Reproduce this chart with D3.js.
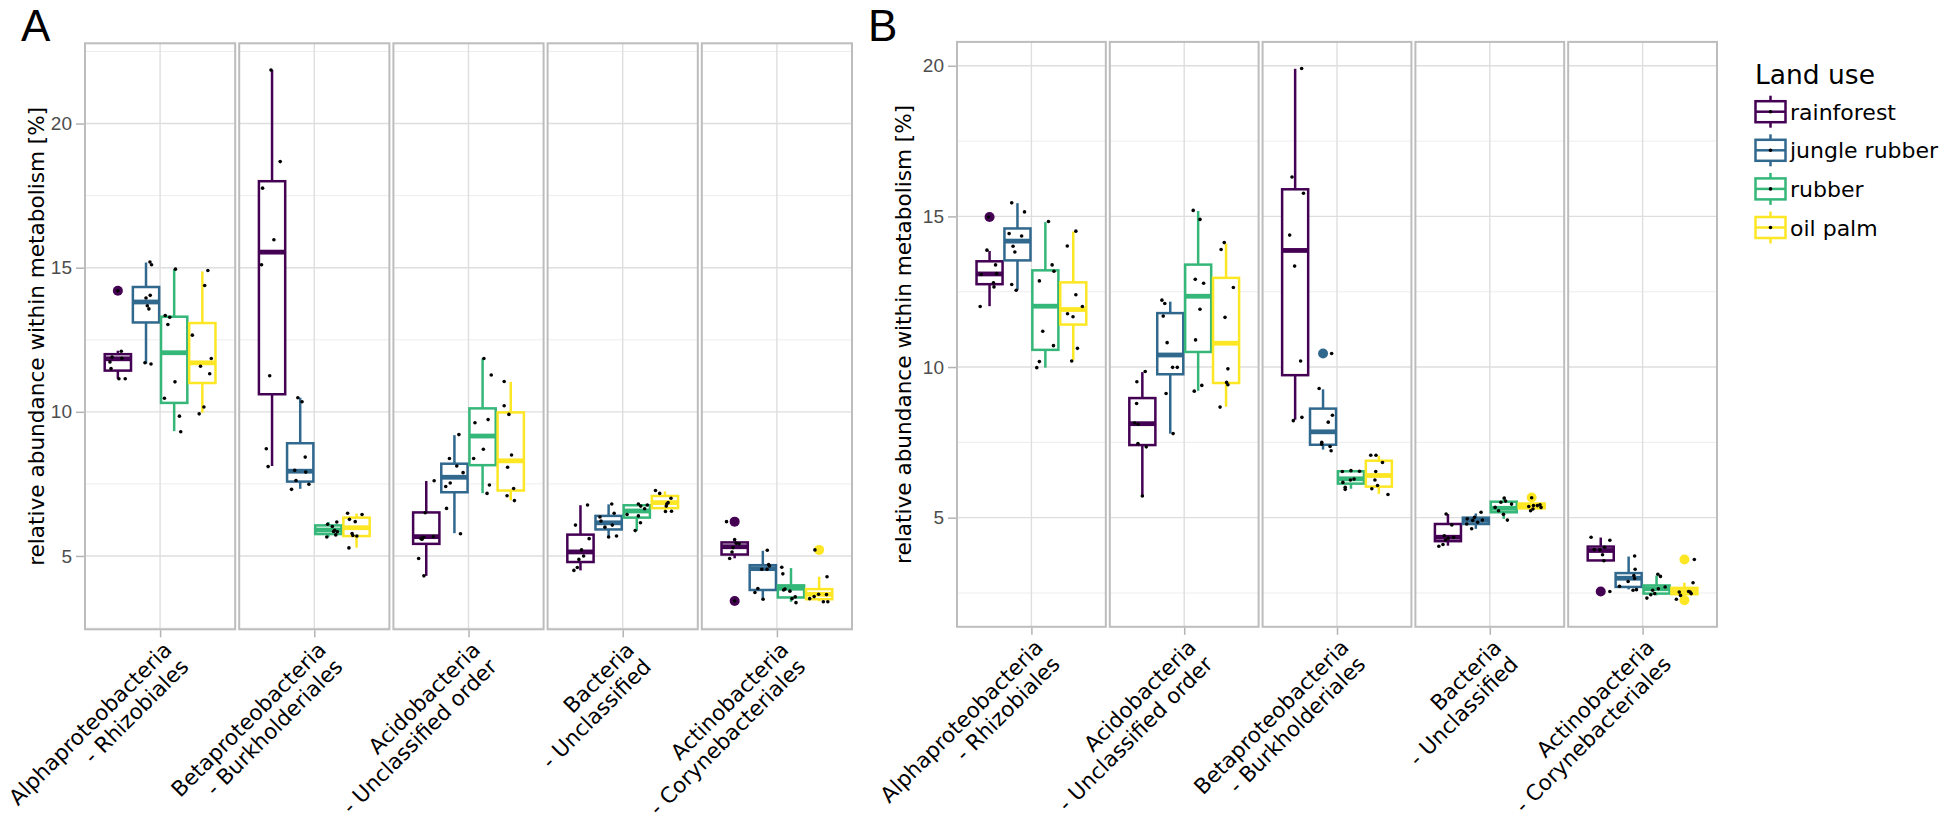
<!DOCTYPE html>
<html>
<head>
<meta charset="utf-8">
<title>Land use boxplots</title>
<script src="https://cdn.jsdelivr.net/npm/d3@7"></script>
<style>
  * { margin: 0; padding: 0; }
  body { background: #fff; }
  svg { display: block; }
</style>
</head>
<body>
<svg id="chart" width="1946" height="825"></svg>
<script>
var landUse = ["rainforest", "jungle rubber", "rubber", "oil palm"];
var colors = ["#440154", "#31688E", "#35B779", "#FDE725"];

var taxaA = [
  ["Alphaproteobacteria", "- Rhizobiales"],
  ["Betaproteobacteria", "- Burkholderiales"],
  ["Acidobacteria", "- Unclassified order"],
  ["Bacteria", "- Unclassified"],
  ["Actinobacteria", "- Corynebacteriales"]
];
var taxaB = [
  ["Alphaproteobacteria", "- Rhizobiales"],
  ["Acidobacteria", "- Unclassified order"],
  ["Betaproteobacteria", "- Burkholderiales"],
  ["Bacteria", "- Unclassified"],
  ["Actinobacteria", "- Corynebacteriales"]
];
var yTicks = [5, 10, 15, 20];

// box stats per taxon and land use: [lower whisker, q1, median, q3, upper whisker]
var statsA = [
  [[11.15, 11.43, 11.84, 12.0, 12.12], [11.67, 13.1, 13.81, 14.33, 15.18], [9.33, 10.31, 12.05, 13.3, 14.95], [9.97, 11.0, 11.7, 13.08, 14.87]],
  [[8.12, 10.61, 15.54, 18.0, 21.86], [7.33, 7.58, 7.94, 8.91, 10.49], [5.66, 5.76, 5.9, 6.06, 6.18], [5.29, 5.69, 5.98, 6.33, 6.47]],
  [[4.31, 5.42, 5.67, 6.51, 7.6], [5.79, 7.21, 7.73, 8.2, 9.19], [7.18, 8.15, 9.16, 10.12, 11.85], [6.93, 7.27, 8.3, 9.98, 11.04]],
  [[4.5, 4.79, 5.14, 5.74, 6.76], [5.67, 5.92, 6.15, 6.39, 6.79], [5.87, 6.33, 6.56, 6.76, 6.8], [6.56, 6.66, 6.85, 7.08, 7.24]],
  [[4.92, 5.05, 5.32, 5.47, 5.57], [3.5, 3.82, 4.56, 4.68, 5.18], [3.41, 3.56, 3.88, 3.98, 4.58], [3.43, 3.5, 3.67, 3.85, 4.28]]
];
var outliersA = [
  [[14.2], [], [], []],
  [[], [], [], []],
  [[], [], [], []],
  [[], [], [], []],
  [[6.19, 3.44], [], [], [5.21]]
];
// jittered samples: [value, jitter as fraction of box width]
var pointsA = [
  [
    [[14.2, 0], [12.1, .13], [11.9, -.22], [11.86, .15], [11.73, -.3], [11.5, -.26], [11.15, .04], [11.15, .28]],
    [[15.2, .15], [15.1, .21], [13.95, 0], [14.04, .16], [13.68, .05], [13.57, .11], [11.7, -.04], [11.66, .19]],
    [[14.95, .05], [13.34, -.34], [13.28, -.17], [13.03, -.24], [11.04, .03], [10.47, -.37], [9.85, .2], [9.31, .25]],
    [[14.9, .21], [14.38, .09], [12.66, -.38], [11.85, .34], [11.58, -.07], [11.32, .28], [10.17, .06], [9.93, -.12]]
  ],
  [
    [[21.86, -.04], [18.68, .31], [17.76, -.36], [15.97, .07], [15.1, -.4], [11.25, -.09], [8.72, -.22], [8.1, -.15]],
    [[10.49, -.09], [10.35, .07], [8.43, .19], [7.97, -.21], [7.91, .21], [7.62, -.16], [7.49, .33], [7.31, -.33]],
    [[6.1, -.03], [6.18, .32], [6.02, .15], [5.89, .24], [5.84, .34], [5.73, .28], [5.66, -.06], [5.85, .2]],
    [[6.48, -.34], [6.44, .21], [6.27, -.27], [6.19, -.05], [5.78, -.17], [5.69, .01], [5.71, -.14], [5.28, -.29]]
  ],
  [
    [[7.61, .3], [6.5, -.04], [5.58, -.16], [5.65, -.1], [5.67, .27], [4.91, -.29], [4.31, -.09], [5.6, -.2]],
    [[9.21, .17], [8.38, -.19], [8.12, .09], [7.89, .33], [7.53, -.16], [7.41, -.33], [6.65, -.3], [5.77, .23]],
    [[11.85, .05], [11.28, .33], [9.73, .21], [9.62, -.29], [8.7, .03], [8.38, -.34], [7.46, .26], [7.17, .17]],
    [[11.05, -.25], [10.21, -.25], [9.91, -.07], [8.5, .03], [8.08, -.12], [7.34, .11], [7.09, -.14], [6.92, .14]]
  ],
  [
    [[6.77, .27], [6.07, -.19], [5.6, .33], [5.21, .04], [5.0, .12], [4.88, -.06], [4.5, -.25], [4.6, -.12]],
    [[6.8, .12], [6.35, -.33], [6.48, .21], [6.21, -.29], [6.07, .14], [6.0, -.14], [5.66, 0], [5.69, .3]],
    [[6.8, .06], [6.73, .15], [6.77, .4], [6.64, .3], [6.44, -.37], [6.39, .06], [6.15, .14], [5.88, -.06]],
    [[7.27, -.36], [7.17, -.2], [7.0, .23], [6.85, .12], [6.73, .05], [6.8, .07], [6.54, .02], [6.55, .25]]
  ],
  [
    [[6.19, -.31], [5.57, 0], [5.42, .17], [5.14, -.1], [4.91, -.19], [3.44, 0], [5.44, .06], [5.29, -.06]],
    [[5.2, .17], [4.7, .22], [4.54, -.04], [4.54, .16], [3.87, -.19], [3.73, -.3], [3.5, .01], [4.65, .25]],
    [[4.61, -.35], [4.38, -.31], [3.85, -.23], [3.78, -.04], [3.58, .16], [3.52, .04], [3.38, .19], [3.82, -.28]],
    [[5.21, -.16], [4.28, .3], [3.67, -.02], [3.59, -.19], [3.52, -.36], [3.66, .28], [3.41, .16], [3.41, .33]]
  ]
];

var statsB = [
  [[12.02, 12.75, 13.09, 13.51, 13.85], [12.55, 13.54, 14.18, 14.6, 15.44], [9.98, 10.57, 12.02, 13.21, 14.81], [10.22, 11.41, 11.91, 12.81, 14.5]],
  [[5.72, 7.41, 8.12, 8.97, 9.83], [7.79, 9.76, 10.4, 11.79, 12.17], [9.21, 10.5, 12.35, 13.4, 15.18], [8.68, 9.47, 10.79, 12.96, 14.1]],
  [[8.25, 9.73, 13.87, 15.9, 19.9], [7.26, 7.42, 7.85, 8.62, 9.26], [5.96, 6.13, 6.29, 6.54, 6.56], [5.79, 6.03, 6.4, 6.89, 7.06]],
  [[4.07, 4.22, 4.35, 4.79, 5.12], [4.63, 4.79, 4.91, 5.0, 5.14], [4.96, 5.18, 5.31, 5.53, 5.67], [5.23, 5.31, 5.4, 5.47, 5.47]],
  [[3.57, 3.58, 3.91, 4.04, 4.34], [2.62, 2.7, 2.99, 3.16, 3.71], [2.42, 2.48, 2.64, 2.75, 3.08], [2.42, 2.46, 2.55, 2.67, 2.84]]
];
var outliersB = [
  [[14.98], [], [], []],
  [[], [], [], []],
  [[], [10.45], [], []],
  [[], [], [], [5.67]],
  [[2.55], [], [], [3.61, 2.26]]
];
var pointsB = [
  [
    [[14.98, -.04], [13.88, -.1], [13.39, .23], [13.07, -.32], [13.1, .27], [12.8, .15], [12.66, .17], [12.01, -.36]],
    [[15.45, -.22], [15.15, .27], [14.43, -.32], [14.35, .16], [14.01, -.17], [13.82, -.1], [12.74, -.22], [12.55, -.05]],
    [[14.83, .12], [13.39, .26], [13.18, .33], [12.86, -.23], [11.19, -.1], [10.71, .31], [10.18, -.23], [9.98, -.33]],
    [[14.51, .1], [14.02, -.23], [12.4, .1], [12.01, .35], [11.77, -.22], [11.67, -.01], [10.62, .16], [10.2, -.06]]
  ],
  [
    [[9.85, .11], [9.51, -.21], [8.79, -.22], [8.14, -.3], [8.1, -.16], [7.46, -.17], [7.35, .15], [5.72, 0]],
    [[12.22, -.32], [12.11, -.21], [11.69, -.27], [10.81, -.12], [9.99, .09], [9.99, .27], [9.12, -.16], [7.79, .11]],
    [[15.2, -.19], [14.9, .07], [12.91, -.11], [12.78, .21], [11.92, .07], [10.9, -.1], [9.39, .14], [9.2, -.15]],
    [[14.13, -.07], [13.9, -.19], [12.64, .28], [11.65, -.04], [9.94, .07], [9.49, .02], [9.41, .07], [8.67, -.23]]
  ],
  [
    [[19.91, .25], [16.31, -.12], [15.77, .32], [14.38, -.21], [13.35, -.02], [10.2, .21], [8.33, .26], [8.22, -.07]],
    [[10.45, .33], [9.29, -.15], [8.4, .36], [8.17, .2], [7.5, -.05], [7.44, -.05], [7.36, .27], [7.22, .31]],
    [[6.53, -.33], [6.56, 0], [6.54, .33], [6.25, -.02], [6.28, .12], [6.17, -.31], [6.01, -.22], [5.94, -.22]],
    [[7.07, -.31], [7.07, -.11], [6.83, .14], [6.53, -.12], [6.25, -.15], [6.07, -.05], [5.96, -.27], [5.77, .35]]
  ],
  [
    [[5.12, -.07], [4.76, .15], [4.4, -.14], [4.32, .01], [4.35, .22], [4.26, -.09], [4.11, -.19], [4.05, -.35]],
    [[5.18, .2], [5.01, -.05], [4.96, -.33], [4.91, -.12], [4.92, .25], [4.85, .07], [4.79, -.35], [4.63, -.16]],
    [[5.65, .02], [5.55, .07], [5.51, -.11], [5.45, .3], [5.34, -.33], [5.11, -.01], [4.92, .14], [5.23, -.2]],
    [[5.66, 0], [5.37, -.11], [5.4, .07], [5.43, .32], [5.29, .05], [5.23, -.04], [5.34, .36], [5.4, .22]]
  ],
  [
    [[2.55, .35], [4.35, -.37], [4.25, .35], [3.94, -.25], [3.77, .07], [3.57, .12], [3.93, -.03], [4.02, .15]],
    [[3.73, .23], [3.29, .25], [3.08, .2], [2.98, .23], [2.88, -.02], [2.72, -.35], [2.59, .17], [2.61, .3]],
    [[3.12, .05], [3.05, .15], [2.64, .07], [2.48, -.07], [2.44, -.22], [2.33, -.37], [2.7, .33], [2.59, -.15]],
    [[3.61, .38], [2.84, .33], [2.53, .22], [2.53, -.2], [2.29, -.31], [2.55, .16], [2.42, -.15], [2.48, .26]]
  ]
];

var svg = d3.select("#chart");
var color = d3.scaleOrdinal().domain(d3.range(4)).range(colors);
var FONT = "'DejaVu Sans', sans-serif";
var TICKFONT = "'Liberation Sans', Arial, sans-serif";

function drawPlot(cfg) {
  var g = svg.append("g");

  var all = [];
  cfg.stats.forEach(function(t) { t.forEach(function(s) { all.push(s[0], s[4]); }); });
  cfg.outliers.forEach(function(t) { t.forEach(function(o) { all = all.concat(o); }); });
  cfg.points.forEach(function(t) { t.forEach(function(p) { p.forEach(function(d) { all.push(d[0]); }); }); });
  var ext = d3.extent(all), pad = (ext[1] - ext[0]) * 0.05;

  var y = d3.scaleLinear().domain([ext[0] - pad, ext[1] + pad]).range([cfg.bottom, cfg.top]);
  var panel = d3.scaleBand().domain(d3.range(cfg.taxa.length))
      .range([cfg.left, cfg.right]).paddingInner(0.026);

  var majors = yTicks.filter(function(v) { return v >= y.domain()[0] && v <= y.domain()[1]; });
  var minors = yTicks.map(function(v) { return v - 2.5; }).concat([yTicks[yTicks.length - 1] + 2.5])
      .filter(function(v) { return v >= y.domain()[0] && v <= y.domain()[1]; });

  cfg.taxa.forEach(function(taxon, t) {
    var px = panel(t), pw = panel.bandwidth();
    var x = d3.scaleLinear().domain([0.4, 1.6]).range([px, px + pw]);
    var pg = g.append("g");

    pg.selectAll(".minor").data(minors).enter().append("line")
      .attr("x1", px).attr("x2", px + pw)
      .attr("y1", function(d) { return y(d); }).attr("y2", function(d) { return y(d); })
      .attr("stroke", "#ebebeb").attr("stroke-width", 0.9);
    pg.selectAll(".major").data(majors).enter().append("line")
      .attr("x1", px).attr("x2", px + pw)
      .attr("y1", function(d) { return y(d); }).attr("y2", function(d) { return y(d); })
      .attr("stroke", "#dedede").attr("stroke-width", 1.4);
    pg.append("line")
      .attr("x1", x(1)).attr("x2", x(1)).attr("y1", cfg.top).attr("y2", cfg.bottom)
      .attr("stroke", "#dedede").attr("stroke-width", 1.4);

    var groups = landUse.map(function(lu, i) {
      return { i: i, c: 1 + (i - 1.5) * 0.225, s: cfg.stats[t][i], o: cfg.outliers[t][i], p: cfg.points[t][i] };
    });
    var bw = 0.21;

    var bg = pg.selectAll(".box").data(groups).enter().append("g");
    bg.append("line")
      .attr("x1", function(d) { return x(d.c); }).attr("x2", function(d) { return x(d.c); })
      .attr("y1", function(d) { return y(d.s[3]); }).attr("y2", function(d) { return y(d.s[4]); })
      .attr("stroke", function(d) { return color(d.i); }).attr("stroke-width", 2.5);
    bg.append("line")
      .attr("x1", function(d) { return x(d.c); }).attr("x2", function(d) { return x(d.c); })
      .attr("y1", function(d) { return y(d.s[1]); }).attr("y2", function(d) { return y(d.s[0]); })
      .attr("stroke", function(d) { return color(d.i); }).attr("stroke-width", 2.5);
    bg.append("rect")
      .attr("x", function(d) { return x(d.c - bw / 2); })
      .attr("width", function(d) { return x(d.c + bw / 2) - x(d.c - bw / 2); })
      .attr("y", function(d) { return y(d.s[3]); })
      .attr("height", function(d) { return y(d.s[1]) - y(d.s[3]); })
      .attr("fill", "#fff")
      .attr("stroke", function(d) { return color(d.i); }).attr("stroke-width", 2.5);
    bg.append("line")
      .attr("x1", function(d) { return x(d.c - bw / 2); }).attr("x2", function(d) { return x(d.c + bw / 2); })
      .attr("y1", function(d) { return y(d.s[2]); }).attr("y2", function(d) { return y(d.s[2]); })
      .attr("stroke", function(d) { return color(d.i); }).attr("stroke-width", 4.8);
    bg.selectAll(".out").data(function(d) { return d.o.map(function(v) { return { v: v, i: d.i, c: d.c }; }); })
      .enter().append("circle")
      .attr("cx", function(d) { return x(d.c); }).attr("cy", function(d) { return y(d.v); })
      .attr("r", 5).attr("fill", function(d) { return color(d.i); });
    bg.selectAll(".pt").data(function(d) { return d.p.map(function(p) { return { v: p[0], j: p[1], c: d.c }; }); })
      .enter().append("circle")
      .attr("cx", function(d) { return x(d.c + d.j * bw); }).attr("cy", function(d) { return y(d.v); })
      .attr("r", 1.8).attr("fill", "#000");

    pg.append("rect")
      .attr("x", px).attr("y", cfg.top).attr("width", pw).attr("height", cfg.bottom - cfg.top)
      .attr("fill", "none").attr("stroke", "#bdbdbd").attr("stroke-width", 2);

    var xa = pg.append("g").attr("transform", "translate(0," + (cfg.bottom + 1) + ")")
      .call(d3.axisBottom(x).tickValues([1]).tickFormat("").tickSize(7).tickSizeOuter(0));
    xa.select(".domain").remove();
    xa.selectAll("line").attr("stroke", "#b3b3b3").attr("stroke-width", 1.5);

    var lab = pg.append("text")
      .attr("transform", "translate(" + (x(1) + 13) + "," + (cfg.bottom + 22) + ") rotate(-45)")
      .attr("text-anchor", "end")
      .style("font-family", FONT).style("font-size", "21.5px").attr("fill", "#000");
    lab.selectAll("tspan").data(taxon).enter().append("tspan")
      .attr("x", 0).attr("dy", function(d, k) { return k ? "1.1em" : 0; })
      .text(function(d) { return d; });
  });

  var ya = g.append("g").attr("transform", "translate(" + (cfg.left - 1) + ",0)")
    .call(d3.axisLeft(y).tickValues(majors).tickSize(8).tickPadding(4));
  ya.select(".domain").remove();
  ya.selectAll("line").attr("stroke", "#b3b3b3").attr("stroke-width", 1.5);
  ya.selectAll("text").style("font-family", TICKFONT).style("font-size", "19px").attr("fill", "#4d4d4d");

  g.append("text")
    .attr("transform", "translate(" + cfg.titleX + "," + ((cfg.top + cfg.bottom) / 2) + ") rotate(-90)")
    .attr("text-anchor", "middle")
    .style("font-family", FONT).style("font-size", "21.6px").attr("fill", "#000")
    .text("relative abundance within metabolism [%]");

  g.append("text").attr("x", cfg.letterX).attr("y", 41)
    .style("font-family", TICKFONT).style("font-size", "44px").attr("fill", "#000")
    .text(cfg.letter);
}

drawPlot({ letter: "A", letterX: 21, titleX: 44, left: 85, right: 852, top: 43.3, bottom: 629.3,
  taxa: taxaA, stats: statsA, outliers: outliersA, points: pointsA });
drawPlot({ letter: "B", letterX: 868, titleX: 911, left: 957, right: 1717, top: 41.9, bottom: 626.8,
  taxa: taxaB, stats: statsB, outliers: outliersB, points: pointsB });

// legend
var lg = svg.append("g").attr("transform", "translate(1755,0)");
lg.append("text").attr("x", 0).attr("y", 84)
  .style("font-family", FONT).style("font-size", "26.5px").attr("fill", "#000").text("Land use");
var keys = lg.selectAll(".key").data(landUse).enter().append("g")
  .attr("transform", function(d, i) { return "translate(0," + (111.7 + i * 38.6) + ")"; });
keys.append("line").attr("x1", 15.5).attr("x2", 15.5).attr("y1", -16).attr("y2", 16)
  .attr("stroke", function(d, i) { return color(i); }).attr("stroke-width", 2.5);
keys.append("rect").attr("x", 0.5).attr("y", -10.5).attr("width", 30).attr("height", 21)
  .attr("fill", "#fff").attr("stroke", function(d, i) { return color(i); }).attr("stroke-width", 2.5);
keys.append("line").attr("x1", 0.5).attr("x2", 30.5).attr("y1", 0).attr("y2", 0)
  .attr("stroke", function(d, i) { return color(i); }).attr("stroke-width", 2.5);
keys.append("circle").attr("cx", 15.5).attr("cy", 0).attr("r", 1.8).attr("fill", "#000");
keys.append("text").attr("x", 35).attr("y", 8)
  .style("font-family", FONT).style("font-size", "22px").attr("fill", "#000")
  .text(function(d) { return d; });
</script>
</body>
</html>
